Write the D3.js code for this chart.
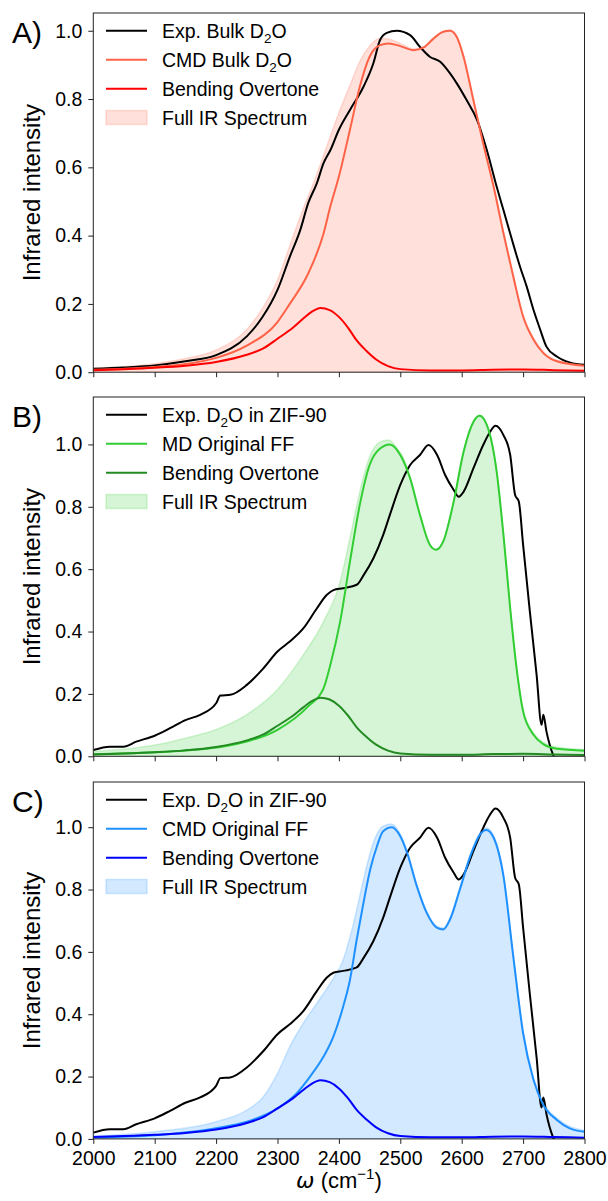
<!DOCTYPE html>
<html>
<head>
<meta charset="utf-8">
<script src="https://cdn.jsdelivr.net/npm/d3@7"></script>
<style>
  html, body { margin: 0; padding: 0; background: #fff; }
  text { font-family: "Liberation Sans", Arial, sans-serif; fill: #000; }
</style>
</head>
<body>
<svg id="chart" width="608" height="1201"></svg>
<script>
// ---------- data (wavenumber in cm^-1, normalised IR intensity) ----------
const xTicks = [2000, 2100, 2200, 2300, 2400, 2500, 2600, 2700, 2800];
const yTicks = [0.0, 0.2, 0.4, 0.6, 0.8, 1.0];

// Panel A: bulk D2O
const bulkExpW = [2000, 2050, 2100, 2150, 2200, 2250, 2275, 2300, 2320, 2337, 2350, 2364, 2375, 2386, 2400, 2418, 2440, 2456, 2467, 2478, 2494, 2516, 2532, 2548, 2565, 2581, 2592, 2608, 2625, 2641, 2657, 2668, 2682, 2690, 2695, 2706, 2717, 2728, 2738, 2755, 2777, 2800];
const bulkExpI = [0.010, 0.014, 0.020, 0.032, 0.050, 0.105, 0.160, 0.241, 0.338, 0.416, 0.495, 0.553, 0.612, 0.650, 0.710, 0.768, 0.836, 0.904, 0.973, 0.994, 1.000, 0.987, 0.953, 0.924, 0.909, 0.875, 0.846, 0.797, 0.739, 0.650, 0.543, 0.475, 0.387, 0.338, 0.309, 0.250, 0.182, 0.124, 0.075, 0.046, 0.028, 0.022];

const bulkCmdW = [2000, 2100, 2200, 2250, 2300, 2320, 2350, 2375, 2386, 2400, 2418, 2434, 2450, 2467, 2481, 2500, 2522, 2538, 2554, 2570, 2581, 2592, 2603, 2619, 2635, 2652, 2668, 2684, 2700, 2717, 2733, 2755, 2800];
const bulkCmdI = [0.007, 0.015, 0.042, 0.078, 0.147, 0.200, 0.289, 0.406, 0.485, 0.573, 0.710, 0.836, 0.924, 0.958, 0.963, 0.955, 0.943, 0.951, 0.977, 0.997, 1.000, 0.982, 0.924, 0.797, 0.670, 0.543, 0.407, 0.280, 0.163, 0.095, 0.056, 0.032, 0.019];

const bulkFullW = [2000, 2100, 2150, 2200, 2250, 2280, 2300, 2320, 2340, 2360, 2380, 2400, 2418, 2434, 2450, 2467, 2481, 2500, 2522, 2538, 2554, 2570, 2581, 2592, 2603, 2619, 2635, 2652, 2668, 2684, 2700, 2717, 2733, 2755, 2800];
const bulkFullI = [0.012, 0.025, 0.040, 0.065, 0.125, 0.200, 0.270, 0.370, 0.470, 0.560, 0.660, 0.760, 0.840, 0.910, 0.955, 0.978, 0.976, 0.963, 0.947, 0.953, 0.978, 0.998, 1.002, 0.985, 0.928, 0.800, 0.673, 0.546, 0.410, 0.284, 0.168, 0.100, 0.060, 0.035, 0.020];

// Bending overtone (same band in all panels)
const bendW = [2000, 2050, 2100, 2150, 2200, 2250, 2277, 2300, 2325, 2342, 2355, 2370, 2385, 2400, 2415, 2429, 2445, 2460, 2480, 2500, 2550, 2600, 2650, 2700, 2750, 2800];
const bendI = [0.006, 0.009, 0.013, 0.019, 0.030, 0.051, 0.070, 0.098, 0.130, 0.157, 0.176, 0.188, 0.182, 0.162, 0.130, 0.093, 0.062, 0.038, 0.018, 0.009, 0.005, 0.005, 0.007, 0.008, 0.006, 0.004];

// Panels B and C: D2O confined in ZIF-90
const zifExpW = [2000, 2027, 2049, 2070, 2100, 2125, 2150, 2174, 2200, 2207, 2223, 2250, 2277, 2300, 2320, 2342, 2364, 2380, 2391, 2407, 2429, 2440, 2456, 2472, 2483, 2500, 2516, 2532, 2546, 2560, 2573, 2587, 2595, 2603, 2619, 2635, 2646, 2655, 2668, 2679, 2687, 2693, 2700, 2711, 2722, 2730, 2733, 2738, 2749, 2760];
const zifExpI = [0.020, 0.031, 0.031, 0.047, 0.066, 0.090, 0.116, 0.133, 0.170, 0.195, 0.197, 0.229, 0.282, 0.336, 0.368, 0.410, 0.474, 0.517, 0.533, 0.539, 0.550, 0.580, 0.634, 0.709, 0.774, 0.870, 0.934, 0.966, 0.998, 0.966, 0.902, 0.854, 0.832, 0.848, 0.923, 0.998, 1.040, 1.060, 1.030, 0.966, 0.838, 0.817, 0.678, 0.464, 0.261, 0.101, 0.133, 0.080, 0.004, -0.030];

const mdW = [2000, 2100, 2200, 2250, 2300, 2350, 2375, 2386, 2402, 2418, 2434, 2450, 2467, 2483, 2500, 2516, 2532, 2548, 2558, 2570, 2587, 2603, 2619, 2629, 2641, 2657, 2668, 2679, 2690, 2700, 2717, 2733, 2755, 2800];
const mdI = [0.007, 0.013, 0.028, 0.047, 0.085, 0.160, 0.218, 0.293, 0.432, 0.624, 0.806, 0.934, 0.987, 1.000, 0.966, 0.891, 0.774, 0.678, 0.662, 0.689, 0.817, 0.976, 1.072, 1.092, 1.062, 0.912, 0.710, 0.474, 0.272, 0.144, 0.069, 0.039, 0.024, 0.018];

const mdFullW = [2000, 2100, 2150, 2200, 2250, 2300, 2342, 2375, 2402, 2418, 2434, 2450, 2467, 2481, 2494, 2510, 2516, 2532, 2548, 2558, 2570, 2587, 2603, 2619, 2629, 2641, 2657, 2668, 2679, 2690, 2700, 2717, 2733, 2755, 2800];
const mdFullI = [0.015, 0.036, 0.058, 0.086, 0.134, 0.214, 0.325, 0.432, 0.560, 0.700, 0.848, 0.960, 1.008, 1.014, 0.990, 0.935, 0.895, 0.776, 0.680, 0.664, 0.691, 0.819, 0.978, 1.074, 1.094, 1.064, 0.915, 0.713, 0.477, 0.276, 0.150, 0.075, 0.045, 0.030, 0.022];

const cmdW = [2000, 2100, 2200, 2250, 2300, 2331, 2353, 2375, 2391, 2407, 2418, 2429, 2440, 2451, 2462, 2472, 2486, 2500, 2511, 2527, 2543, 2560, 2570, 2581, 2597, 2614, 2630, 2640, 2652, 2668, 2684, 2700, 2717, 2733, 2755, 2776, 2800];
const cmdI = [0.005, 0.012, 0.034, 0.055, 0.098, 0.146, 0.200, 0.264, 0.328, 0.425, 0.510, 0.639, 0.757, 0.864, 0.939, 0.987, 1.000, 0.971, 0.918, 0.810, 0.725, 0.677, 0.672, 0.704, 0.800, 0.907, 0.977, 0.991, 0.966, 0.843, 0.585, 0.339, 0.189, 0.109, 0.061, 0.034, 0.023];

const cmdFullW = [2000, 2100, 2200, 2250, 2277, 2300, 2320, 2342, 2364, 2386, 2407, 2424, 2440, 2456, 2472, 2486, 2500, 2511, 2527, 2543, 2560, 2570, 2581, 2597, 2614, 2630, 2640, 2652, 2668, 2684, 2700, 2717, 2733, 2755, 2776, 2800];
const cmdFullI = [0.009, 0.023, 0.055, 0.092, 0.135, 0.210, 0.296, 0.371, 0.435, 0.500, 0.575, 0.693, 0.832, 0.950, 1.003, 1.010, 0.978, 0.925, 0.815, 0.730, 0.682, 0.677, 0.709, 0.806, 0.913, 0.984, 0.998, 0.973, 0.850, 0.592, 0.346, 0.196, 0.115, 0.067, 0.040, 0.028];

// ---------- drawing ----------
const zip = (w, v) => w.map((d, i) => ({ w: d, v: v[i] }));

const panels = [
  { tag: "A)", top: 13, bottom: 372.2, ymax: 1.052,
    exp: zip(bulkExpW, bulkExpI), sim: zip(bulkCmdW, bulkCmdI), full: zip(bulkFullW, bulkFullI),
    bend: zip(bendW, bendI),
    simColor: "#ff6347", bendColor: "#ff0000", fillColor: "#ff6347",
    labels: [["Exp. Bulk D", "2", "O"], ["CMD Bulk D", "2", "O"], ["Bending Overtone"], ["Full IR Spectrum"]] },
  { tag: "B)", top: 397, bottom: 756.3, ymax: 1.152,
    exp: zip(zifExpW, zifExpI), sim: zip(mdW, mdI), full: zip(mdFullW, mdFullI),
    bend: zip(bendW, bendI),
    simColor: "#32cd32", bendColor: "#228b22", fillColor: "#32cd32",
    labels: [["Exp. D", "2", "O in ZIF-90"], ["MD Original FF"], ["Bending Overtone"], ["Full IR Spectrum"]] },
  { tag: "C)", top: 782, bottom: 1138.9, ymax: 1.145,
    exp: zip(zifExpW, zifExpI), sim: zip(cmdW, cmdI), full: zip(cmdFullW, cmdFullI),
    bend: zip(bendW, bendI),
    simColor: "#1e90ff", bendColor: "#0000ff", fillColor: "#1e90ff",
    labels: [["Exp. D", "2", "O in ZIF-90"], ["CMD Original FF"], ["Bending Overtone"], ["Full IR Spectrum"]] }
];

const svg = d3.select("#chart");
const left = 93.3, right = 584.5;
const x = d3.scaleLinear().domain([2000, 2800]).range([left, right]);
const tickFont = 19.5;

panels.forEach((p, pi) => {
  const y = d3.scaleLinear().domain([0, p.ymax]).range([p.bottom, p.top]);
  const g = svg.append("g");
  const clipId = "clip" + pi;
  svg.append("clipPath").attr("id", clipId)
    .append("rect").attr("x", left).attr("y", p.top).attr("width", right - left).attr("height", p.bottom - p.top);

  const line = d3.line().x(d => x(d.w)).y(d => y(d.v)).curve(d3.curveMonotoneX);
  const area = d3.area().x(d => x(d.w)).y0(y(0)).y1(d => y(d.v)).curve(d3.curveMonotoneX);

  const plot = g.append("g").attr("clip-path", `url(#${clipId})`);
  plot.append("path").datum(p.full).attr("d", area)
    .attr("fill", p.fillColor).attr("fill-opacity", 0.2)
    .attr("stroke", p.fillColor).attr("stroke-opacity", 0.2).attr("stroke-width", 1.5);
  plot.append("path").datum(p.exp).attr("d", line)
    .attr("fill", "none").attr("stroke", "#000").attr("stroke-width", 2).attr("stroke-linejoin", "round");
  plot.append("path").datum(p.sim).attr("d", line)
    .attr("fill", "none").attr("stroke", p.simColor).attr("stroke-width", 2);
  plot.append("path").datum(p.bend).attr("d", line)
    .attr("fill", "none").attr("stroke", p.bendColor).attr("stroke-width", 2);

  // axes
  const yAxis = d3.axisLeft(y).tickValues(yTicks).tickSize(5).tickPadding(6).tickFormat(d3.format(".1f"));
  const xAxis = d3.axisBottom(x).tickValues(xTicks).tickSize(5).tickPadding(7)
    .tickFormat(pi === panels.length - 1 ? d3.format("d") : () => "");
  const ya = g.append("g").attr("transform", `translate(${left},0)`).call(yAxis);
  const xa = g.append("g").attr("transform", `translate(0,${p.bottom})`).call(xAxis);
  [ya, xa].forEach(a => {
    a.select(".domain").remove();
    a.selectAll(".tick line").attr("stroke", "#222").attr("stroke-width", 1);
    a.selectAll(".tick text").style("font-size", tickFont + "px")
      .style("font-family", "'Liberation Sans', Arial, sans-serif").attr("fill", "#000");
  });

  // frame
  g.append("rect").attr("x", left).attr("y", p.top)
    .attr("width", right - left).attr("height", p.bottom - p.top)
    .attr("fill", "none").attr("stroke", "#222").attr("stroke-width", 1);

  // panel tag
  g.append("text").attr("x", 12).attr("y", p.top + 30).style("font-size", "30px").text(p.tag);

  // y label
  g.append("text")
    .attr("transform", `translate(40,${(p.top + p.bottom) / 2}) rotate(-90)`)
    .attr("text-anchor", "middle").style("font-size", "24px").text("Infrared intensity");

  // legend
  const rowY = [17.8, 46.8, 75.8, 104.5];
  const kinds = ["exp", "sim", "bend", "fill"];
  kinds.forEach((k, i) => {
    const cy = p.top + rowY[i];
    if (k === "fill") {
      g.append("rect").attr("x", 106).attr("y", cy - 7).attr("width", 41).attr("height", 14)
        .attr("fill", p.fillColor).attr("fill-opacity", 0.2)
        .attr("stroke", p.fillColor).attr("stroke-opacity", 0.2).attr("stroke-width", 1.5);
    } else {
      const col = k === "exp" ? "#000" : (k === "sim" ? p.simColor : p.bendColor);
      g.append("line").attr("x1", 106).attr("x2", 147).attr("y1", cy).attr("y2", cy)
        .attr("stroke", col).attr("stroke-width", 2);
    }
    const t = g.append("text").attr("x", 162).attr("y", cy + 7).style("font-size", tickFont + "px");
    const parts = p.labels[i];
    t.append("tspan").text(parts[0]);
    if (parts.length > 1) {
      t.append("tspan").attr("dy", 5).style("font-size", "13.5px").text(parts[1]);
      t.append("tspan").attr("dy", -5).text(parts[2]);
    }
  });
});

// x-axis title
const xt = svg.append("text").attr("x", (left + right) / 2).attr("y", 1188)
  .attr("text-anchor", "middle").style("font-size", "22px");
xt.append("tspan").style("font-style", "italic").style("font-family", "'DejaVu Sans', sans-serif").text("ω");
xt.append("tspan").text(" (cm");
xt.append("tspan").attr("dy", -9).style("font-size", "15px").text("−1");
xt.append("tspan").attr("dy", 9).text(")");
</script>
</body>
</html>
